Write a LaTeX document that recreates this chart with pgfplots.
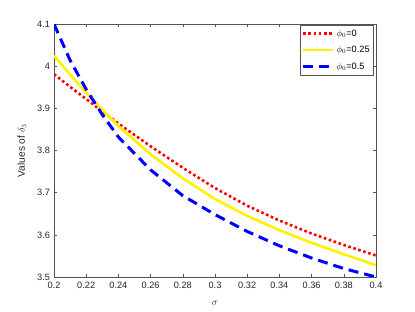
\documentclass[border=0pt]{standalone}
\usepackage{fontspec}
\setmainfont{Liberation Sans}
\usepackage{pgfplots}
\pgfplotsset{compat=1.18}
\definecolor{txtgray}{rgb}{0.15,0.15,0.15}
\definecolor{axgray}{rgb}{0.33,0.33,0.33}
\begin{document}
\begin{tikzpicture}
\path[use as bounding box] (0,0) rectangle (415bp,312bp);
\begin{axis}[
  at={(54bp,35bp)}, anchor=south west,
  width=322bp, height=253bp, scale only axis,
  xmin=0.2, xmax=0.4, ymin=3.5, ymax=4.1,
  xtick={0.2,0.22,...,0.41},
  ytick={3.5,3.6,...,4.15},
  tick align=inside, tick pos=both,
  major tick length=3.2bp,
  axis line style={axgray, line width=0.6bp},
  every tick/.style={axgray, line width=0.6bp},
  font=\fontsize{9.25}{11}\selectfont,
  tick label style={txtgray, font=\fontsize{9.25}{11}\selectfont},
  /pgf/number format/assume math mode=true,
  /pgf/number format/fixed,
  /pgf/number format/precision=2,
  xticklabel style={yshift=-1.5bp},
  yticklabel style={xshift=-0.5bp},
  xlabel={$\sigma$},
  ylabel={Values of $\delta_3$},
  xlabel style={at={(axis description cs:0.5,-0.105)}, anchor=center, txtgray, font=\fontsize{10.2}{12}\selectfont},
  ylabel style={at={(axis description cs:-0.0994,0.5)}, anchor=center, rotate=0, txtgray, font=\fontsize{10.2}{12}\selectfont},
  legend style={at={(rel axis cs:0.992,0.996)}, anchor=north east,
    draw=axgray, line width=0.6bp, fill=white, text=black,
    font=\fontsize{9.25}{11}\selectfont, inner xsep=1.5bp, inner ysep=2.5bp,
    row sep=4.5bp},
  legend cell align=left,
  legend image code/.code={\draw[#1] (0bp,0bp) -- (30bp,0bp);},
]
\addplot[red, line width=2.6bp, dash pattern=on 2.6bp off 2.6bp] coordinates {
(0.20,3.981) (0.21,3.951) (0.22,3.922) (0.23,3.893) (0.24,3.864) (0.26,3.810)
(0.28,3.759) (0.30,3.711) (0.32,3.669) (0.34,3.634) (0.36,3.603)
(0.38,3.576) (0.40,3.551)};
\addlegendentry{$\phi_0$=0}
\addplot[yellow, line width=2.6bp] coordinates {
(0.20,4.025) (0.21,3.980) (0.22,3.937) (0.23,3.897) (0.24,3.858) (0.26,3.791)
(0.28,3.734) (0.30,3.685) (0.32,3.645) (0.34,3.611) (0.36,3.581)
(0.38,3.554) (0.40,3.528)};
\addlegendentry{$\phi_0$=0.25}
\addplot[blue, line width=3bp, dash pattern=on 10bp off 6bp] coordinates {
(0.20,4.100) (0.21,4.014) (0.22,3.945) (0.23,3.885) (0.24,3.832) (0.26,3.754)
(0.28,3.693) (0.30,3.648) (0.32,3.608) (0.34,3.574) (0.36,3.545)
(0.38,3.520) (0.40,3.500)};
\addlegendentry{$\phi_0$=0.5}
\end{axis}
\end{tikzpicture}
\end{document}
